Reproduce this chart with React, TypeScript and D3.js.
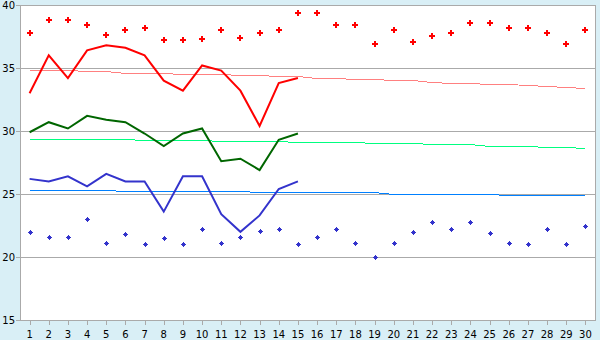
import React from "react";
import * as d3 from "d3";

const days = ["1","2","3","4","5","6","7","8","9","10","11","12","13","14","15","16","17","18","19","20","21","22","23","24","25","26","27","28","29","30"];
const yTicks = [15, 20, 25, 30, 35, 40];

const maxRecord = [37.8,38.8,38.8,38.4,37.6,38.0,38.2,37.2,37.2,37.3,38.0,37.4,37.8,38.0,39.4,39.4,38.4,38.4,36.9,38.0,37.1,37.5,37.8,38.6,38.6,38.2,38.2,37.8,36.9,38.0];
const minRecord = [22.0,21.6,21.6,23.0,21.1,21.8,21.0,21.5,21.0,22.2,21.1,21.6,22.1,22.2,21.0,21.6,22.2,21.1,20.0,21.1,22.0,22.8,22.2,22.8,21.9,21.1,21.0,22.2,21.0,22.5];

const maxThisYear = [33.0,36.0,34.2,36.4,36.8,36.6,36.0,34.0,33.2,35.2,34.8,33.2,30.4,33.8,34.2];
const avgThisYear = [29.9,30.7,30.2,31.2,30.9,30.7,29.8,28.8,29.8,30.2,27.6,27.8,26.9,29.3,29.8];
const minThisYear = [26.2,26.0,26.4,25.6,26.6,26.0,26.0,23.6,26.4,26.4,23.4,22.0,23.3,25.4,26.0];

const maxNormal = [34.82,34.82,34.82,34.74,34.74,34.63,34.63,34.63,34.52,34.5,34.5,34.42,34.42,34.34,34.33,34.18,34.18,34.1,34.1,34.02,34.02,33.89,33.79,33.79,33.71,33.71,33.63,33.55,33.49,33.39];
const avgNormal = [29.39,29.39,29.39,29.39,29.39,29.39,29.31,29.31,29.31,29.31,29.18,29.18,29.18,29.18,29.1,29.1,29.1,29.1,29.02,29.02,29.02,28.94,28.94,28.94,28.83,28.79,28.79,28.71,28.71,28.63];
const minNormal = [25.29,25.29,25.29,25.29,25.29,25.21,25.21,25.21,25.21,25.21,25.21,25.21,25.13,25.13,25.13,25.13,25.13,25.13,25.13,25.02,25.0,25.0,25.0,25.0,25.0,24.91,24.91,24.91,24.91,24.91];

const W = 600, H = 340;
const L = 20, R = 595, T = 5, B = 320;

export default function App() {
  const x = d3.scaleBand<string>().domain(days).range([L, R]);
  const cx = (i: number) => (x(days[i]) as number) + x.bandwidth() / 2;
  const y = d3.scaleLinear().domain([15, 40]).range([B, T]);
  const line = d3.line<number>().x((_, i) => cx(i)).y((v) => y(v));
  const lineR = d3.line<number>().x((_, i) => cx(i)).y((v) => Math.round(y(v)) + 0.5);
  const font = "'DejaVu Sans', Verdana, sans-serif";
  const redMarker = "M-1,-3h2v2h2v2h-2v2h-2v-2h-2v-2h2z";
  const blueMarker = "M-0.5,-2.5h1v1h1v1h1v1h-1v1h-1v1h-1v-1h-1v-1h-1v-1h1v-1h1z";
  return (
    <svg width={W} height={H} style={{ position: "absolute", left: 0, top: 0, display: "block" }}>
      <rect x={0} y={0} width={W} height={H} fill="#d9eff6" />
      <rect x={L} y={T} width={R - L} height={B - T} fill="#ffffff" />
      {yTicks.map((t) => (
        <g key={t}>
          <line x1={L} x2={R} y1={Math.round(y(t)) + 0.5} y2={Math.round(y(t)) + 0.5} stroke="#aaaaaa" shapeRendering="crispEdges" />
          <line x1={16} x2={L} y1={Math.round(y(t)) + 0.5} y2={Math.round(y(t)) + 0.5} stroke="#aaaaaa" shapeRendering="crispEdges" />
          <text x={15} y={y(t) + 3.6} textAnchor="end" fontFamily={font} fontSize={10} fill="#000">{t}</text>
        </g>
      ))}
      <line x1={L + 0.5} x2={L + 0.5} y1={T} y2={B + 1} stroke="#aaaaaa" shapeRendering="crispEdges" />
      <line x1={R + 0.5} x2={R + 0.5} y1={T} y2={B + 1} stroke="#aaaaaa" shapeRendering="crispEdges" />
      {days.map((d, i) => (
        <g key={d}>
          <line x1={Math.round(cx(i)) + 0.5} x2={Math.round(cx(i)) + 0.5} y1={B} y2={B + 5} stroke="#aaaaaa" shapeRendering="crispEdges" />
          <text x={cx(i)} y={338} textAnchor="middle" fontFamily={font} fontSize={10} fill="#000">{d}</text>
        </g>
      ))}
      <path d={lineR(maxNormal) || ""} fill="none" stroke="#ff8080" strokeWidth={1} shapeRendering="crispEdges" />
      <path d={lineR(avgNormal) || ""} fill="none" stroke="#00ff80" strokeWidth={1} shapeRendering="crispEdges" />
      <path d={lineR(minNormal) || ""} fill="none" stroke="#0080ff" strokeWidth={1} shapeRendering="crispEdges" />
      <path d={line(maxThisYear) || ""} fill="none" stroke="#ff0000" strokeWidth={2} />
      <path d={line(avgThisYear) || ""} fill="none" stroke="#006600" strokeWidth={2} />
      <path d={line(minThisYear) || ""} fill="none" stroke="#3333cc" strokeWidth={2} />
      {maxRecord.map((v, i) => (
        <path key={"r" + i} d={redMarker} transform={`translate(${Math.round(cx(i))},${Math.round(y(v))})`} fill="#ff0000" shapeRendering="crispEdges" />
      ))}
      {minRecord.map((v, i) => (
        <path key={"b" + i} d={blueMarker} transform={`translate(${Math.round(cx(i)) + 0.5},${Math.round(y(v)) + 0.5})`} fill="#3333cc" shapeRendering="crispEdges" />
      ))}
    </svg>
  );
}
